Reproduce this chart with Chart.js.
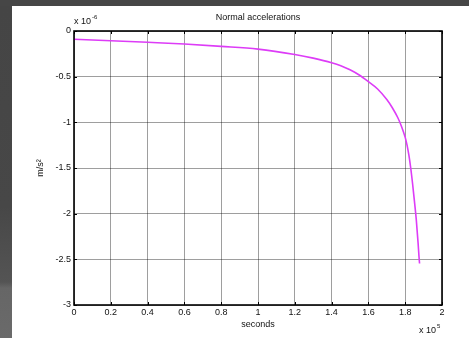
<!DOCTYPE html>
<html>
<head>
<meta charset="utf-8">
<script src="https://cdn.jsdelivr.net/npm/chart.js@4"></script>
<style>
  html, body { margin: 0; padding: 0; }
  body { width: 469px; height: 338px; position: relative; overflow: hidden; background: #464646; }
  #strip { position: absolute; left: 0; top: 6px; width: 12px; height: 332px;
    background: linear-gradient(#454545 0px, #474747 200px, #545454 276px, #666 282px, #6a6a6a 332px); }
  #panel { position: absolute; left: 12px; top: 6px; width: 457px; height: 332px; background: #fff; }
  #wrap { position: absolute; left: 0; top: 0; width: 469px; height: 338px; }
</style>
</head>
<body>
<div id="strip"></div>
<div id="panel"></div>
<div id="wrap"><canvas id="accChart" width="469" height="338"></canvas></div>
<script>
  // time in units of 1e5 s, acceleration in units of 1e-6 m/s^2
  const seconds = [0, 0.2, 0.4, 0.6, 0.8, 1.0, 1.2, 1.3, 1.4, 1.45, 1.5, 1.55, 1.6, 1.65, 1.7, 1.73, 1.76, 1.78, 1.8, 1.81, 1.82, 1.83, 1.84, 1.85, 1.86, 1.87, 1.875, 1.878];
  const accel = [-0.09, -0.106, -0.124, -0.143, -0.168, -0.198, -0.257, -0.297, -0.347, -0.38, -0.425, -0.482, -0.555, -0.635, -0.75, -0.84, -0.95, -1.045, -1.165, -1.25, -1.36, -1.5, -1.67, -1.86, -2.06, -2.32, -2.47, -2.545];
  const xTicks = [0, 0.2, 0.4, 0.6, 0.8, 1, 1.2, 1.4, 1.6, 1.8, 2];
  const yTicks = [0, -0.5, -1, -1.5, -2, -2.5, -3];

  const FONT = "'Liberation Sans', Arial, Helvetica, sans-serif";

  // box around the axes with inward tick marks, plus the exponent labels
  const framePlugin = {
    id: "frame",
    afterDraw(chart) {
      const { ctx, chartArea: a, scales } = chart;
      ctx.save();
      ctx.strokeStyle = "#000";
      ctx.lineWidth = 1;
      xTicks.forEach(v => {
        const px = Math.round(scales.x.getPixelForValue(v)) + 0.5;
        ctx.beginPath();
        ctx.moveTo(px, a.top); ctx.lineTo(px, a.top + 3);
        ctx.moveTo(px, a.bottom); ctx.lineTo(px, a.bottom - 3);
        ctx.stroke();
      });
      yTicks.forEach(v => {
        const py = Math.round(scales.y.getPixelForValue(v)) + 0.5;
        ctx.beginPath();
        ctx.moveTo(a.left, py); ctx.lineTo(a.left + 3, py);
        ctx.moveTo(a.right, py); ctx.lineTo(a.right - 3, py);
        ctx.stroke();
      });
      ctx.lineWidth = 1.6;
      ctx.strokeRect(a.left, a.top, a.right - a.left, a.bottom - a.top);

      ctx.fillStyle = "#111";
      ctx.textBaseline = "alphabetic";
      ctx.textAlign = "left";
      ctx.font = "9px " + FONT;
      ctx.fillText("x 10", a.left, 24);
      ctx.font = "6px " + FONT;
      ctx.fillText("-6", a.left + 18, 19);
      ctx.font = "9px " + FONT;
      ctx.fillText("x 10", a.right - 23, 333);
      ctx.font = "6px " + FONT;
      ctx.fillText("5", a.right - 5, 328);
      ctx.restore();
    }
  };

  const ctx = document.getElementById("accChart").getContext("2d");
  const accChart = new Chart(ctx, {
    type: "line",
    data: {
      datasets: [
        {
          label: "Normal acceleration",
          data: seconds.map((t, i) => ({ x: t, y: accel[i] })),
          borderColor: "#dd3cf7",
          borderWidth: 1.6,
          pointRadius: 0,
          fill: false,
          cubicInterpolationMode: "monotone",
        },
      ],
    },
    options: {
      responsive: false,
      animation: false,
      layout: { padding: { left: 0, right: 27, top: 0, bottom: 0 } },
      plugins: {
        legend: { display: false },
        tooltip: { enabled: false },
        title: {
          display: true,
          text: "Normal accelerations",
          fullSize: false,
          color: "#111",
          font: { family: FONT, size: 9, weight: "normal", lineHeight: 1.2 },
          padding: { top: 12, bottom: 8.2 },
        },
      },
      scales: {
        x: {
          type: "linear",
          min: 0,
          max: 2,
          afterBuildTicks: s => { s.ticks = xTicks.map(v => ({ value: v })); },
          afterFit: s => { s.height = 33; },
          grid: { color: "rgba(0,0,0,0.38)", lineWidth: 1, drawTicks: false },
          border: { display: false },
          ticks: {
            color: "#111",
            padding: 2,
            maxRotation: 0,
            autoSkip: false,
            font: { family: FONT, size: 9 },
            callback: v => String(Math.round(v * 10) / 10),
          },
          title: {
            display: true,
            text: "seconds",
            color: "#111",
            font: { family: FONT, size: 9, lineHeight: 1.2 },
            padding: { top: 0, bottom: 7.6 },
          },
        },
        y: {
          min: -3,
          max: 0,
          afterBuildTicks: s => { s.ticks = yTicks.map(v => ({ value: v })); },
          afterFit: s => { s.width = 74; },
          grid: { color: "rgba(0,0,0,0.38)", lineWidth: 1, drawTicks: false },
          border: { display: false },
          ticks: {
            color: "#111",
            padding: 3,
            autoSkip: false,
            font: { family: FONT, size: 9 },
            callback: v => String(v),
          },
          title: {
            display: true,
            text: "m/s²",
            color: "#111",
            font: { family: FONT, size: 9, lineHeight: 1.2 },
            padding: { top: 35.5, bottom: 0 },
          },
        },
      },
    },
    plugins: [framePlugin],
  });
</script>
</body>
</html>
